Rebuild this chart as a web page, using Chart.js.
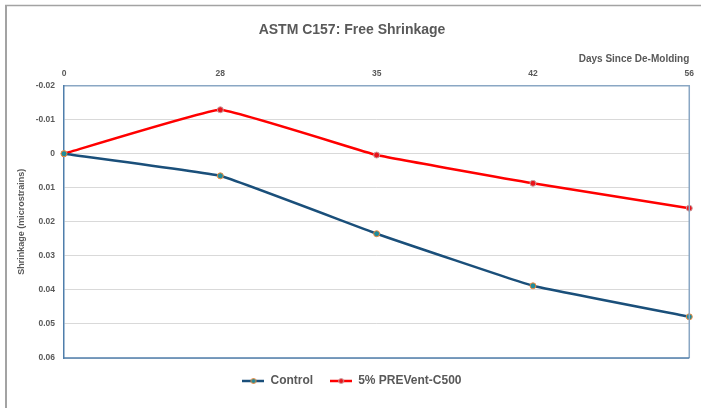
<!DOCTYPE html>
<html>
<head>
<meta charset="utf-8">
<script src="https://cdn.jsdelivr.net/npm/chart.js@4"></script>
<style>
  html, body { margin: 0; padding: 0; background: #fff; }
  #wrap { width: 701px; height: 408px; }
</style>
</head>
<body>
<div id="wrap"><canvas id="chart"></canvas></div>
<script>
(function () {
    'use strict';

    const days        = ['0', '28', '35', '42', '56'];
    const control     = [0, 0.0065, 0.0235, 0.0388, 0.0479];
    const prevent     = [0, -0.0129, 0.0004, 0.0087, 0.0160];
    const yTickLabels = ['-0.02', '-0.01', '0', '0.01', '0.02', '0.03', '0.04', '0.05', '0.06'];

    const FONT = "'Liberation Sans', Arial, sans-serif";
    const GRAY = '#595959';
    const NAVY = '#1a4f7a';
    const RED  = '#ff0000';

    /* legend swatch: short line with a marker on it */
    function swatch(line, fill, stroke) {
        const c = document.createElement('canvas');
        c.width = 22; c.height = 8;
        const g = c.getContext('2d');
        g.strokeStyle = line; g.lineWidth = 2.5;
        g.beginPath(); g.moveTo(0, 4); g.lineTo(22, 4); g.stroke();
        g.fillStyle = fill; g.strokeStyle = stroke; g.lineWidth = 1;
        g.beginPath(); g.arc(11, 4, 2.5, 0, Math.PI * 2); g.fill(); g.stroke();
        return c;
    }

    /* outer frame + the bottom/right sides of the plot box */
    const frame = {
        id: 'frame',
        afterDraw(chart) {
            const ctx = chart.ctx, a = chart.chartArea;
            ctx.save();
            ctx.strokeStyle = '#a3a3a3';
            ctx.lineWidth = 1.5;
            ctx.beginPath(); ctx.moveTo(5, 5.5); ctx.lineTo(701, 5.5); ctx.stroke();
            ctx.lineWidth = 2;
            ctx.beginPath(); ctx.moveTo(6, 5); ctx.lineTo(6, 408); ctx.stroke();
            ctx.lineWidth = 1.5;
            ctx.strokeStyle = '#8aa7c4';
            ctx.beginPath(); ctx.moveTo(a.right, a.top); ctx.lineTo(a.right, a.bottom); ctx.stroke();
            ctx.strokeStyle = '#4f7eab';
            ctx.beginPath(); ctx.moveTo(a.left, a.bottom); ctx.lineTo(a.right, a.bottom); ctx.stroke();
            ctx.restore();
        }
    };

    new Chart(document.getElementById('chart'), {
        type: 'line',
        data: {
            labels: days,
            datasets: [
                {
                    label: 'Control',
                    data: control,
                    borderColor: NAVY,
                    borderWidth: 2.5,
                    tension: 0.08,
                    pointRadius: 3,
                    pointBorderWidth: 1,
                    pointBackgroundColor: '#1f8c9c',
                    pointBorderColor: '#f08a3c',
                    legendSwatch: swatch(NAVY, '#1f8c9c', '#f08a3c'),
                },
                {
                    label: '5% PREVent-C500',
                    data: prevent,
                    borderColor: RED,
                    borderWidth: 2.5,
                    tension: 0.08,
                    pointRadius: 3,
                    pointBorderWidth: 1,
                    pointBackgroundColor: '#e8141c',
                    pointBorderColor: '#c8a0a0',
                    legendSwatch: swatch(RED, '#e8141c', '#c8a0a0'),
                },
            ],
        },
        options: {
            responsive: true,
            maintainAspectRatio: false,
            animation: false,
            layout: { padding: { left: 10, right: 7, top: 12, bottom: 11 } },
            plugins: {
                title: {
                    display: true,
                    text: 'ASTM C157: Free Shrinkage',
                    color: GRAY,
                    font: { family: FONT, size: 14, weight: 'bold' },
                    padding: { top: 10, bottom: 14.6 },
                },
                legend: {
                    position: 'bottom',
                    labels: {
                        usePointStyle: true,
                        pointStyleWidth: 22,
                        padding: 17,
                        color: GRAY,
                        font: { family: FONT, size: 12, weight: 'bold' },
                        generateLabels: function (chart) {
                            return chart.data.datasets.map(function (ds, i) {
                                return {
                                    text: ds.label,
                                    pointStyle: ds.legendSwatch,
                                    fillStyle: ds.borderColor,
                                    strokeStyle: ds.borderColor,
                                    lineWidth: 0,
                                    fontColor: GRAY,
                                    hidden: !chart.isDatasetVisible(i),
                                    datasetIndex: i,
                                };
                            });
                        },
                    },
                },
                tooltip: { enabled: false },
            },
            scales: {
                x: {
                    position: 'top',
                    offset: false,
                    grid: { display: false, drawTicks: false },
                    border: { display: true, color: '#8aa7c4', width: 1.5 },
                    ticks: { color: GRAY, padding: 7, font: { family: FONT, size: 8.5, weight: 'bold' } },
                    title: {
                        display: true,
                        text: 'Days Since De-Molding',
                        align: 'end',
                        color: GRAY,
                        padding: { top: 0, bottom: -4 },
                        font: { family: FONT, size: 10, weight: 'bold' },
                    },
                },
                y: {
                    reverse: true,
                    min: -0.02,
                    max: 0.06,
                    afterFit: function (s) { s.width = 54; },
                    grid: { color: '#d9d9d9', lineWidth: 1, drawTicks: false },
                    border: { display: true, color: '#4f7eab', width: 1.5 },
                    ticks: {
                        stepSize: 0.01,
                        padding: 9,
                        color: GRAY,
                        font: { family: FONT, size: 8.5, weight: 'bold' },
                        callback: function (v) { return yTickLabels[Math.round((v + 0.02) * 100)]; },
                    },
                    title: {
                        display: true,
                        text: 'Shrinkage (microstrains)',
                        color: GRAY,
                        padding: { top: 6, bottom: 0 },
                        font: { family: FONT, size: 9, weight: 'bold' },
                    },
                },
            },
        },
        plugins: [frame],
    });
})();
</script>
</body>
</html>
